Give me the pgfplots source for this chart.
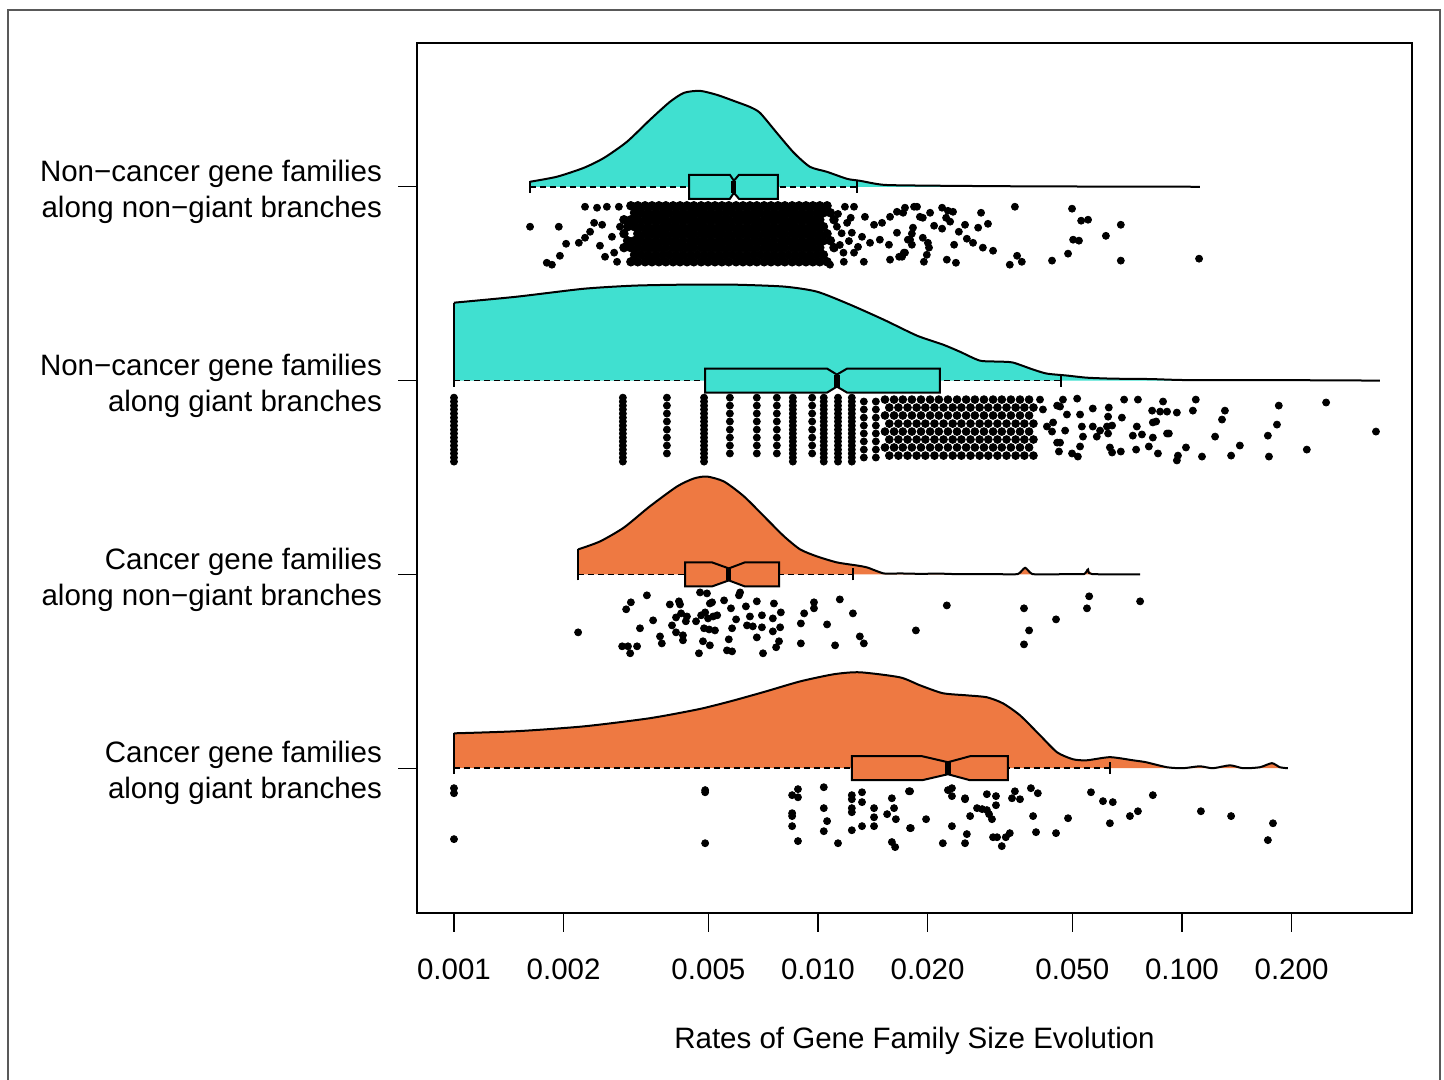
\documentclass[border=0pt]{standalone}
\usepackage{fontspec}
\setmainfont{Liberation Sans}
\usepackage{pgfplots}
\usepackage{pgfplotstable}
\pgfplotsset{compat=1.18}
\definecolor{turq}{RGB}{64,224,208}
\definecolor{coral}{RGB}{238,121,66}
\newcommand{\labfont}{\fontsize{14.75}{18}\selectfont}

% densities: x = log10(rate), h = height above the group line
\pgfplotstableread{
x h
-2.791 0
-2.791 0.026
-2.717 0.052
-2.643 0.098
-2.588 0.149
-2.525 0.232
-2.462 0.345
-2.407 0.438
-2.368 0.485
-2.324 0.495
-2.277 0.474
-2.231 0.443
-2.187 0.412
-2.159 0.381
-2.113 0.278
-2.066 0.175
-2.022 0.103
-1.975 0.077
-1.920 0.041
-1.885 0.031
-1.819 0.010
-1.700 0.006
-1.637 0.005
-1.500 0.003
-1.350 0.002
-1.225 0.001
-1.100 0.001
-0.951 0
}\densA
\pgfplotstableread{
x h
-3.000 0
-3.000 0.402
-2.827 0.433
-2.643 0.474
-2.505 0.490
-2.368 0.495
-2.231 0.495
-2.093 0.485
-2.003 0.459
-1.912 0.392
-1.819 0.314
-1.728 0.232
-1.657 0.186
-1.610 0.149
-1.555 0.103
-1.500 0.098
-1.464 0.093
-1.409 0.057
-1.371 0.036
-1.316 0.026
-1.261 0.015
-1.190 0.010
-1.088 0.008
-0.997 0.003
-0.813 0.002
-0.676 0.002
-0.456 0
}\densB
\pgfplotstableread{
x h
-2.659 0
-2.659 0.129
-2.599 0.170
-2.533 0.242
-2.462 0.351
-2.387 0.454
-2.341 0.495
-2.305 0.505
-2.258 0.479
-2.203 0.402
-2.140 0.284
-2.093 0.196
-2.049 0.129
-2.003 0.093
-1.948 0.062
-1.893 0.046
-1.865 0.036
-1.819 0.005
-1.775 0.005
-1.720 0.003
-1.665 0.004
-1.610 0.001
-1.500 0.001
-1.451 0.002
-1.431 0.034
-1.411 0.002
-1.363 0.000
-1.308 0.002
-1.269 0.002
-1.258 0.026
-1.247 0.002
-1.115 0
}\densC
\pgfplotstableread{
x h
-3.000 0
-3.000 0.180
-2.827 0.191
-2.643 0.216
-2.462 0.258
-2.324 0.306
-2.231 0.350
-2.140 0.398
-2.049 0.448
-1.956 0.485
-1.885 0.495
-1.775 0.469
-1.720 0.428
-1.657 0.387
-1.591 0.376
-1.536 0.366
-1.492 0.335
-1.445 0.273
-1.390 0.170
-1.343 0.082
-1.299 0.046
-1.261 0.041
-1.198 0.057
-1.135 0.041
-1.099 0.031
-1.041 0.005
-0.997 0.000
-0.951 0.010
-0.915 0.000
-0.868 0.015
-0.832 0.000
-0.786 0.005
-0.753 0.026
-0.731 0.005
-0.709 0
}\densD

\pgfplotsset{
  dot/.style={only marks, mark=*, mark size=1.75pt, black,
    mark options={draw=black, fill=black}},
  bigdot/.style={dot, mark size=2.15pt},
  middot/.style={dot, mark size=1.95pt},
  curve/.style={black, line width=1pt, smooth, tension=0.4, skip coords between index={0}{1}},
  whisk/.style={black, line width=0.8pt, dash pattern=on 3pt off 2pt},
  staple/.style={black, line width=1pt},
  med/.style={black, line width=2.6pt},
}

\begin{document}
\begin{tikzpicture}
\useasboundingbox (0,0) rectangle (722pt,540pt);
\begin{axis}[
  at={(208.5pt,83.5pt)}, anchor=south west,
  scale only axis, width=497.5pt, height=435pt,
  xmin=-3.1016, xmax=-0.368, ymin=0.253, ymax=4.742,
  xtick={-3,-2.69897,-2.30103,-2,-1.69897,-1.30103,-1,-0.69897},
  xticklabels={0.001,0.002,0.005,0.010,0.020,0.050,0.100,0.200},
  ytick={1,2,3,4},
  yticklabels={{Cancer gene families\\along giant branches},
    {Cancer gene families\\along non−giant branches},
    {Non−cancer gene families\\along giant branches},
    {Non−cancer gene families\\along non−giant branches}},
  tick align=outside, tick pos=left, major tick length=9.5pt,
  tick style={black, line width=0.6pt},
  axis line style={line width=1pt},
  tick label style={font=\labfont},
  xticklabel style={yshift=-10pt},
  yticklabel style={align=right, xshift=-4.5pt, yshift=-2.5pt},
  xlabel={Rates of Gene Family Size Evolution},
  xlabel style={font=\labfont, at={(axis description cs:0.5,0)}, anchor=center, yshift=-64pt},
]
% ---- group 4: non-cancer, non-giant ----
\addplot[fill=turq, draw=none] table[x=x, y expr=\thisrow{h}+4] {\densA} -- cycle;
\addplot[curve] table[x=x, y expr=\thisrow{h}+4] {\densA};
\addplot[staple] coordinates {(-2.791,4) (-2.791,4.026)};
\addplot[whisk] coordinates {(-2.791,4) (-1.893,4)};
\addplot[staple] coordinates {(-2.791,3.969) (-2.791,4.031)};
\addplot[staple] coordinates {(-1.893,3.969) (-1.893,4.031)};
\addplot[fill=turq, draw=black, line width=1pt] coordinates {
  (-2.354,3.938) (-2.242,3.938) (-2.231,3.969) (-2.217,3.938) (-2.110,3.938)
  (-2.110,4.062) (-2.217,4.062) (-2.231,4.031) (-2.242,4.062) (-2.354,4.062)} -- cycle;
\addplot[med] coordinates {(-2.231,3.969) (-2.231,4.031)};

% ---- group 3: non-cancer, giant ----
\addplot[fill=turq, draw=none] table[x=x, y expr=\thisrow{h}+3] {\densB} -- cycle;
\addplot[curve] table[x=x, y expr=\thisrow{h}+3] {\densB};
\addplot[staple] coordinates {(-3.000,3) (-3.000,3.402)};
\addplot[whisk] coordinates {(-3.000,3) (-1.332,3)};
\addplot[staple] coordinates {(-3.000,2.969) (-3.000,3.031)};
\addplot[staple] coordinates {(-1.332,2.969) (-1.332,3.031)};
\addplot[fill=turq, draw=black, line width=1pt] coordinates {
  (-2.310,2.938) (-1.975,2.938) (-1.948,2.969) (-1.920,2.938) (-1.665,2.938)
  (-1.665,3.062) (-1.920,3.062) (-1.948,3.031) (-1.975,3.062) (-2.310,3.062)} -- cycle;
\addplot[med] coordinates {(-1.948,2.969) (-1.948,3.031)};

% ---- group 2: cancer, non-giant ----
\addplot[fill=coral, draw=none] table[x=x, y expr=\thisrow{h}+2] {\densC} -- cycle;
\addplot[curve] table[x=x, y expr=\thisrow{h}+2] {\densC};
\addplot[staple] coordinates {(-2.659,2) (-2.659,2.129)};
\addplot[whisk] coordinates {(-2.659,2) (-1.904,2)};
\addplot[staple] coordinates {(-2.659,1.969) (-2.659,2.031)};
\addplot[staple] coordinates {(-1.904,1.969) (-1.904,2.031)};
\addplot[fill=coral, draw=black, line width=1pt] coordinates {
  (-2.365,1.938) (-2.291,1.938) (-2.245,1.969) (-2.201,1.938) (-2.107,1.938)
  (-2.107,2.062) (-2.201,2.062) (-2.245,2.031) (-2.291,2.062) (-2.365,2.062)} -- cycle;
\addplot[med] coordinates {(-2.245,1.969) (-2.245,2.031)};

% ---- group 1: cancer, giant ----
\addplot[fill=coral, draw=none] table[x=x, y expr=\thisrow{h}+1] {\densD} -- cycle;
\addplot[curve] table[x=x, y expr=\thisrow{h}+1] {\densD};
\addplot[staple] coordinates {(-3.000,1) (-3.000,1.180)};
\addplot[whisk] coordinates {(-3.000,1) (-1.198,1)};
\addplot[staple] coordinates {(-3.000,0.969) (-3.000,1.031)};
\addplot[staple] coordinates {(-1.198,0.969) (-1.198,1.031)};
\addplot[fill=coral, draw=black, line width=1pt] coordinates {
  (-1.907,0.938) (-1.714,0.938) (-1.643,0.969) (-1.582,0.938) (-1.478,0.938)
  (-1.478,1.062) (-1.582,1.062) (-1.643,1.031) (-1.714,1.062) (-1.907,1.062)} -- cycle;
\addplot[med] coordinates {(-1.643,0.969) (-1.643,1.031)};

% ---- points, group 4 (dense core) ----
\pgfplotsinvokeforeach{-2.495,-2.475,-2.456,-2.437,-2.418,-2.398,-2.379,-2.360,-2.341,-2.321,-2.302,-2.283,-2.264,-2.245,-2.225,-2.206,-2.187,-2.168,-2.148,-2.129,-2.110,-2.091,-2.071,-2.052,-2.033,-2.014,-1.995}{
  \addplot[bigdot] coordinates {(#1,3.902) (#1,3.830) (#1,3.758) (#1,3.686) (#1,3.613)};}
\pgfplotsinvokeforeach{-2.504,-2.485,-2.466,-2.446,-2.427,-2.408,-2.389,-2.370,-2.350,-2.331,-2.312,-2.293,-2.273,-2.254,-2.235,-2.216,-2.196,-2.177,-2.158,-2.139,-2.120,-2.100,-2.081,-2.062,-2.043,-2.023,-2.004,-1.985}{
  \addplot[bigdot] coordinates {(#1,3.866) (#1,3.794) (#1,3.722) (#1,3.649)};}
\addplot[bigdot] coordinates {
(-2.533,3.830) (-2.533,3.758) (-2.533,3.686) (-2.514,3.902) (-2.514,3.830) (-2.514,3.686)
(-2.514,3.613) (-2.523,3.794) (-2.523,3.722) (-1.975,3.902) (-1.975,3.758) (-1.975,3.613)
(-1.956,3.830) (-1.956,3.686) (-1.966,3.866) (-1.966,3.722)};
\addplot[dot] coordinates {
(-2.791,3.794) (-2.712,3.794) (-2.745,3.608) (-2.731,3.598) (-2.709,3.644) (-2.692,3.706)
(-2.657,3.711) (-2.640,3.737) (-2.640,3.897) (-2.607,3.892) (-2.580,3.897) (-2.615,3.814)
(-2.593,3.804) (-2.626,3.768) (-2.599,3.696) (-2.585,3.639) (-2.560,3.660) (-2.552,3.613)
(-2.566,3.742) (-2.544,3.794) (-2.547,3.897)
(-1.901,3.897) (-1.926,3.897) (-1.871,3.845) (-1.846,3.804) (-1.824,3.814) (-1.802,3.845)
(-1.783,3.871) (-1.761,3.892) (-1.736,3.897) (-1.879,3.742) (-1.857,3.711) (-1.830,3.727)
(-1.805,3.701) (-1.783,3.763) (-1.747,3.727) (-1.901,3.660) (-1.874,3.613) (-1.802,3.624)
(-1.777,3.639) (-1.764,3.660) (-1.907,3.763) (-1.920,3.814) (-1.948,3.794) (-1.929,3.613)
(-1.967,3.598) (-1.940,3.700) (-1.930,3.660) (-1.945,3.860) (-1.915,3.720) (-1.890,3.690)
(-1.935,3.760) (-1.910,3.840)
(-1.766,3.866) (-1.728,3.897) (-1.659,3.892) (-1.643,3.876) (-1.629,3.871) (-1.552,3.866)
(-1.459,3.897) (-1.302,3.887) (-1.277,3.825) (-1.258,3.830) (-1.168,3.804) (-1.692,3.866)
(-1.720,3.845) (-1.712,3.840) (-1.648,3.840) (-1.637,3.820) (-1.739,3.789) (-1.681,3.799)
(-1.659,3.784) (-1.596,3.804) (-1.533,3.809) (-1.560,3.789) (-1.613,3.768) (-1.742,3.758)
(-1.712,3.737) (-1.591,3.732) (-1.574,3.711) (-1.753,3.727) (-1.742,3.701) (-1.698,3.711)
(-1.695,3.686) (-1.626,3.701) (-1.547,3.686) (-1.519,3.670) (-1.209,3.747) (-1.299,3.727)
(-1.283,3.722) (-1.313,3.655) (-1.701,3.649) (-1.761,3.660) (-1.769,3.639) (-1.709,3.613)
(-1.646,3.624) (-1.621,3.608) (-1.473,3.598) (-1.453,3.644) (-1.440,3.613) (-1.357,3.619)
(-1.168,3.619) (-0.953,3.629)};

% ---- points, group 3 ----
\pgfplotsinvokeforeach{-3.000,-2.536,-2.313,-2.069,-1.984,-1.945,-1.907}{
  \addplot[dot] coordinates {(#1,2.912) (#1,2.892) (#1,2.871) (#1,2.851) (#1,2.830) (#1,2.809)
  (#1,2.789) (#1,2.768) (#1,2.747) (#1,2.727) (#1,2.706) (#1,2.686) (#1,2.665) (#1,2.644)
  (#1,2.624) (#1,2.603) (#1,2.582)};}
\pgfplotsinvokeforeach{-2.415,-2.242,-2.168,-2.113,-2.016}{
  \addplot[dot] coordinates {(#1,2.912) (#1,2.871) (#1,2.830) (#1,2.789) (#1,2.747) (#1,2.706)
  (#1,2.665) (#1,2.624)};}
\pgfplotsinvokeforeach{-1.874,-1.841}{
  \addplot[dot] coordinates {(#1,2.892) (#1,2.851) (#1,2.809) (#1,2.768) (#1,2.727) (#1,2.686)
  (#1,2.644) (#1,2.603)};}
\pgfplotsinvokeforeach{-1.816,-1.791,-1.767,-1.742,-1.717,-1.692,-1.668,-1.643,-1.618,-1.593,-1.569,-1.544,-1.519,-1.495,-1.470,-1.445,-1.420}{
  \addplot[middot] coordinates {(#1,2.902) (#1,2.820) (#1,2.737) (#1,2.655)};}
\pgfplotsinvokeforeach{-1.804,-1.779,-1.754,-1.729,-1.705,-1.680,-1.655,-1.630,-1.606,-1.581,-1.556,-1.532,-1.507,-1.482,-1.457,-1.433,-1.408}{
  \addplot[middot] coordinates {(#1,2.861) (#1,2.778) (#1,2.696) (#1,2.613)};}
\addplot[dot] coordinates {
(-1.390,2.902) (-1.382,2.851) (-1.327,2.902) (-1.288,2.907) (-1.343,2.871) (-1.335,2.866)
(-1.316,2.825) (-1.280,2.825) (-1.275,2.763) (-1.245,2.856) (-1.201,2.861) (-1.203,2.814)
(-1.165,2.809) (-1.159,2.902) (-1.121,2.902) (-1.052,2.892) (-1.082,2.845) (-1.060,2.840)
(-1.041,2.840) (-1.014,2.835) (-0.970,2.845) (-0.962,2.902) (-0.882,2.845) (-0.734,2.871)
(-0.604,2.887) (-0.890,2.799) (-1.080,2.784) (-1.071,2.789) (-1.124,2.763) (-0.739,2.773)
(-0.467,2.737) (-1.245,2.763) (-1.225,2.742) (-1.206,2.763) (-1.192,2.768) (-1.354,2.784)
(-1.371,2.763) (-1.357,2.737) (-1.321,2.742) (-1.272,2.711) (-1.234,2.711) (-1.203,2.727)
(-1.135,2.716) (-1.110,2.722) (-1.080,2.706) (-1.041,2.727) (-1.036,2.727) (-0.909,2.711)
(-0.764,2.716) (-1.280,2.660) (-1.198,2.655) (-1.192,2.629) (-1.168,2.634) (-1.126,2.644)
(-1.091,2.660) (-1.066,2.624) (-0.989,2.655) (-1.011,2.613) (-1.014,2.588) (-0.945,2.608)
(-0.865,2.613) (-0.841,2.665) (-0.761,2.608) (-0.657,2.644) (-1.338,2.634) (-1.302,2.624)
(-1.286,2.608) (-1.335,2.680) (-1.343,2.680)};

% ---- points, group 2 ----
\addplot[dot] coordinates {
(-2.659,1.701) (-2.514,1.856) (-2.527,1.820) (-2.470,1.892) (-2.453,1.763) (-2.489,1.722)
(-2.538,1.629) (-2.522,1.629) (-2.497,1.629) (-2.516,1.593) (-2.434,1.680) (-2.429,1.644)
(-2.407,1.845) (-2.382,1.861) (-2.379,1.845) (-2.376,1.799) (-2.390,1.778) (-2.360,1.783)
(-2.363,1.758) (-2.401,1.737) (-2.390,1.701) (-2.371,1.686) (-2.371,1.660) (-2.335,1.758)
(-2.324,1.907) (-2.305,1.902) (-2.297,1.850) (-2.291,1.856) (-2.321,1.789) (-2.310,1.804)
(-2.302,1.773) (-2.288,1.783) (-2.277,1.789) (-2.313,1.722) (-2.299,1.716) (-2.283,1.711)
(-2.316,1.655) (-2.297,1.634) (-2.327,1.593) (-2.258,1.866) (-2.239,1.825) (-2.217,1.892)
(-2.214,1.907) (-2.225,1.768) (-2.236,1.722) (-2.245,1.665) (-2.250,1.608) (-2.236,1.603)
(-2.198,1.835) (-2.168,1.861) (-2.187,1.783) (-2.154,1.789) (-2.195,1.737) (-2.179,1.732)
(-2.154,1.727) (-2.124,1.773) (-2.121,1.850) (-2.102,1.804) (-2.104,1.727) (-2.124,1.706)
(-2.168,1.675) (-2.107,1.655) (-2.115,1.624) (-2.151,1.593) (-2.047,1.747) (-2.038,1.799)
(-2.047,1.644) (-2.011,1.856) (-2.011,1.825) (-1.975,1.742) (-1.953,1.634) (-1.940,1.871)
(-1.904,1.799) (-1.885,1.680) (-1.874,1.644) (-1.731,1.711) (-1.646,1.840) (-1.434,1.825)
(-1.420,1.711) (-1.434,1.639) (-1.346,1.768) (-1.255,1.887) (-1.261,1.825) (-1.115,1.861)};

% ---- points, group 1 ----
\addplot[dot] coordinates {
(-3.000,0.897) (-3.000,0.871) (-3.000,0.634) (-2.310,0.887) (-2.310,0.876) (-2.310,0.613)
(-2.055,0.892) (-2.071,0.861) (-2.055,0.850) (-1.984,0.902) (-2.071,0.768) (-2.071,0.753)
(-2.071,0.701) (-2.055,0.624) (-1.984,0.794) (-1.975,0.727) (-1.984,0.675) (-1.945,0.613)
(-1.907,0.861) (-1.907,0.840) (-1.879,0.876) (-1.879,0.825) (-1.907,0.794) (-1.907,0.773)
(-1.846,0.794) (-1.846,0.747) (-1.879,0.701) (-1.846,0.701) (-1.907,0.680) (-1.810,0.763)
(-1.797,0.845) (-1.791,0.794) (-1.786,0.737) (-1.747,0.881) (-1.747,0.691) (-1.797,0.619)
(-1.788,0.593) (-1.750,0.881) (-1.703,0.737) (-1.745,0.691) (-1.643,0.887) (-1.632,0.897)
(-1.632,0.856) (-1.596,0.845) (-1.596,0.840) (-1.536,0.866) (-1.511,0.856) (-1.511,0.809)
(-1.459,0.881) (-1.467,0.845) (-1.445,0.840) (-1.415,0.897) (-1.396,0.871) (-1.563,0.794)
(-1.549,0.789) (-1.536,0.784) (-1.530,0.763) (-1.522,0.737) (-1.582,0.753) (-1.632,0.701)
(-1.591,0.660) (-1.657,0.613) (-1.596,0.613) (-1.519,0.644) (-1.508,0.644) (-1.484,0.644)
(-1.473,0.665) (-1.495,0.598) (-1.409,0.753) (-1.401,0.670) (-1.346,0.665) (-1.313,0.742)
(-1.250,0.876) (-1.217,0.830) (-1.190,0.825) (-1.198,0.716) (-1.143,0.753) (-1.121,0.778)
(-1.080,0.861) (-0.948,0.778) (-0.865,0.753) (-0.750,0.716) (-0.764,0.629)};
\end{axis}
\draw[gray!70!black, line width=0.7pt] (4pt,0pt) -- (4pt,535pt) -- (720pt,535pt) -- (720pt,0pt);
\end{tikzpicture}
\end{document}
